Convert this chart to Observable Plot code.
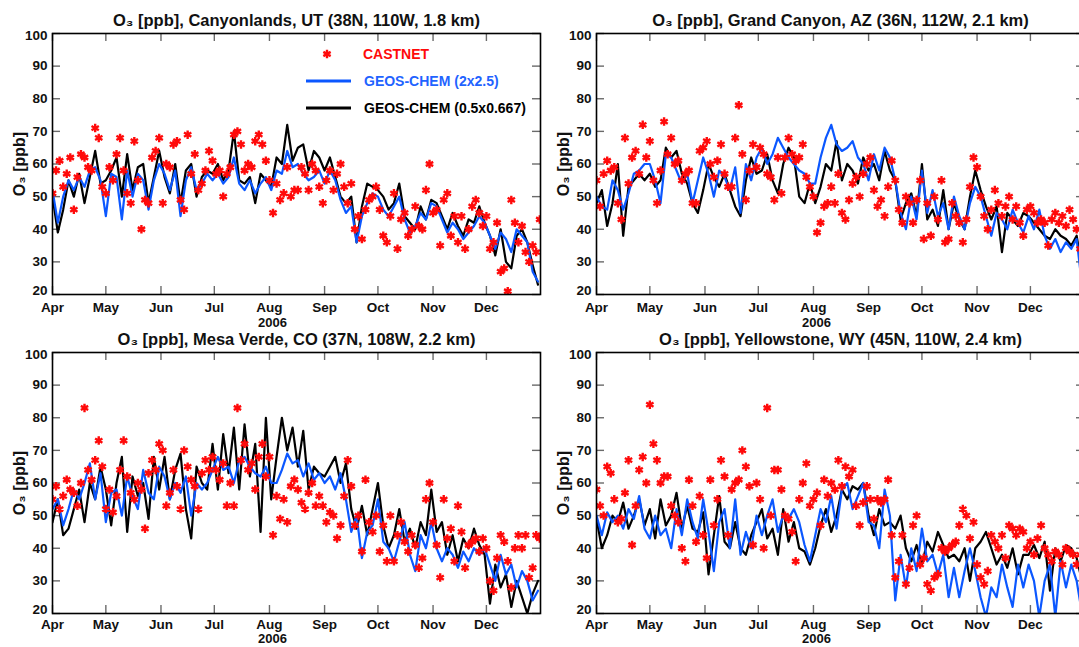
<!DOCTYPE html>
<html><head><meta charset="utf-8">
<script src="https://cdn.jsdelivr.net/npm/d3@7"></script>
<script src="https://cdn.jsdelivr.net/npm/@observablehq/plot@0.6"></script>
<style>
html,body{margin:0;padding:0;background:#fff;overflow:hidden;}
#wrap{position:relative;width:1079px;height:647px;overflow:hidden;font-family:"Liberation Sans",Arial,sans-serif;}
.panel{position:absolute;}
.leg{position:absolute;font-weight:bold;font-size:14px;white-space:nowrap;line-height:14px;}
</style></head><body><div id="wrap"></div>
<script>
// ---------- axis / labels ----------
const yTicks = [20, 30, 40, 50, 60, 70, 80, 90, 100];
const monthLabels = ["Apr", "May", "Jun", "Jul", "Aug", "Sep", "Oct", "Nov", "Dec"];
const yearLabel = "2006";
const yLabel = "O\u2083 [ppb]";
const titles = [
  "O\u2083 [ppb], Canyonlands, UT (38N, 110W, 1.8 km)",
  "O\u2083 [ppb], Grand Canyon, AZ (36N, 112W, 2.1 km)",
  "O\u2083 [ppb], Mesa Verde, CO (37N, 108W, 2.2 km)",
  "O\u2083 [ppb], Yellowstone, WY (45N, 110W, 2.4 km)"
];
const seriesNames = ["CASTNET", "GEOS-CHEM (2x2.5)", "GEOS-CHEM (0.5x0.667)"];
// CASTNET sampled every 2 days, model every 3 days, starting 1 April 2006
const CAST_STEP = 2, MODEL_STEP = 3;

// ---------- Canyonlands ----------
const canyonCastnet = [51,58,61,53,57,62,46,56,63,62, 59,58,71,68,53,51,59,55,63,68, 58,51,48,67,55,40,49,48,62,64, 68,48,60,59,66,67,49,46,69,57, 63,52,54,58,64,61,57,58,50,57, 59,69,70,66,58,60,59,67,69,66, 61,55,45,54,49,51,59,50,52,52, 59,57,52,60,58,53,48,55,58,52, 57,60,53,48,54,40,44,37,46,49, 50,53,46,38,36,44,51,34,43,45, 38,40,47,41,40,52,60,45,46,35, 49,51,38,44,36,44,34,40,47,49, 45,41,44,34,36,42,27,28,21,49, 42,36,41,33,30,35,33,43];
const canyonGC2x25 = [52,42,50,55,52,56,53,58,59,55, 44,57,56,43,58,50,57,55,46,55, 60,57,52,58,44,55,59,52,54,57, 55,57,54,56,62,54,52,55,51,54,56, 52,58,57,64,59,60,57,55,56,58, 54,58,55,49,45,47,36,44,48,51, 50,46,44,47,50,43,39,41,45,43, 48,47,43,39,42,40,37,39,41,44, 42,38,34,39,37,33,40,38,36,27,24];
const canyonGC05 = [50,39,46,55,50,57,48,56,64,54, 55,58,62,50,63,52,59,60,48,56, 64,56,51,60,48,58,60,50,56,58, 57,60,55,58,70,55,54,56,48,57,55, 53,62,60,72,61,65,66,58,64,62, 58,62,56,50,48,50,36,47,54,53, 52,50,46,48,54,44,42,40,47,43, 49,48,44,40,45,41,38,43,42,47, 42,38,32,40,30,28,38,40,36,29,23];

// ---------- Grand Canyon ----------
const gcanCastnet = [55,47,57,61,58,59,48,43,68,54, 62,64,57,72,62,67,55,48,58,73, 63,68,60,61,55,57,58,48,48,64, 65,67,60,56,61,66,57,53,53,68, 78,63,49,58,66,59,65,63,57,56, 49,62,51,62,68,63,61,62,66,56, 53,50,39,42,47,48,53,48,57,45, 43,49,54,56,50,57,60,62,52,47, 49,44,53,61,55,46,42,50,48,42, 49,55,37,48,38,50,43,55,36,37, 48,44,42,36,43,53,62,59,50,44, 40,46,52,48,44,47,50,43,47,42, 38,46,47,45,42,43,42,35,43,45, 42,44,41,46,43,40,34,33];
const gcanGC2x25 = [50,47,46,55,52,46,51,57,58,60, 60,55,48,63,62,58,54,57,48,55, 62,57,50,58,56,52,59,45,60,55, 62,65,60,63,68,65,62,60,58,57,54, 54,62,68,72,66,64,65,67,62,60, 55,63,58,65,62,55,45,40,50,43, 58,45,52,44,48,40,50,44,40,48, 53,50,44,38,45,43,40,46,42,39, 44,40,46,38,34,37,33,36,34,37,23];
const gcanGC05 = [48,52,41,48,60,38,53,55,57,55, 57,53,55,65,62,64,57,54,48,45, 52,60,56,53,57,52,47,44,55,62, 57,58,63,55,51,60,65,62,50,48,54, 48,53,60,58,67,55,60,58,54,62, 58,60,55,64,58,55,43,48,51,44, 60,43,46,41,52,40,48,43,40,50, 58,52,47,43,47,33,45,43,41,45, 44,42,40,38,37,40,38,37,35,38,28];

// ---------- Mesa Verde ----------
const mesaCastnet = [55,59,52,56,61,58,57,53,60,83, 64,61,67,73,65,52,58,51,56,64, 73,62,57,55,60,58,46,63,67,64, 72,70,53,57,64,59,52,70,65,61, 59,52,63,67,64,68,64,61,66,53, 60,53,83,67,72,64,66,58,68,72, 62,68,44,56,49,55,48,59,61,58, 54,52,57,60,53,56,53,48,51,50, 43,47,56,67,59,47,50,39,61,48, 45,50,39,47,36,50,36,44,48,42, 39,44,41,34,37,55,60,48,41,31, 55,43,46,36,53,45,34,41,42,43, 39,43,40,30,27,37,44,42,36,28, 40,44,40,44,31,34,44,43];
const mesaGC2x25 = [52,55,47,52,58,55,60,66,55,63, 48,57,58,50,62,56,52,64,57,55, 65,62,55,60,57,62,50,60,58,60, 64,68,64,65,60,67,68,65,63,62,65, 60,60,64,69,66,67,62,66,61,63, 60,62,58,63,55,45,50,37,45,47, 55,42,40,36,42,48,38,33,44,40, 48,40,36,40,38,34,39,36,40,38, 40,35,30,38,32,35,28,33,30,24,27];
const mesaGC05 = [48,55,44,46,52,58,48,60,55,65, 58,47,60,68,45,62,56,60,49,68, 58,68,55,64,69,52,43,65,60,58, 72,58,75,63,77,58,78,62,72,45,80, 55,68,80,70,77,65,76,58,65,63, 62,65,68,60,66,52,46,53,44,52, 60,47,40,44,52,42,46,40,48,44, 58,45,48,38,44,36,43,40,46,41, 38,23,35,28,32,22,30,25,20,26,30];

// ---------- Yellowstone ----------
const yellCastnet = [58,53,50,65,63,55,48,49,57,67, 41,53,64,68,60,84,72,67,60,62, 62,53,50,48,40,36,61,53,42,56, 44,37,61,47,55,67,62,44,58,60, 61,70,65,59,41,60,55,40,83,50, 64,64,58,50,49,45,36,55,60,66, 53,55,57,47,61,56,60,58,67,59, 65,62,64,53,47,54,59,55,49,55, 54,55,61,44,31,36,44,29,34,47, 50,35,37,29,27,31,32,40,39,40, 41,42,47,52,50,43,48,35,31,29, 33,44,42,40,44,37,47,46,44,46, 45,40,42,38,43,47,40,38,36,39, 38,35,40,39,38,35,38,31];
const yellGC2x25 = [50,44,51,48,50,46,52,49,56,46, 43,50,44,46,40,52,44,55,48,43, 55,45,33,48,52,40,55,38,45,40, 50,44,50,55,45,50,49,52,48,41,36, 44,52,48,56,46,58,60,52,56,60, 48,47,40,58,50,24,38,28,40,33, 46,36,38,32,38,25,34,25,33,40, 33,25,19,28,25,35,28,22,35,28, 35,30,19,30,35,19,36,28,35,30,20];
const yellGC05 = [49,40,44,50,48,54,46,50,55,47, 52,43,55,47,50,57,46,53,46,45, 51,32,44,56,42,40,48,40,38,44, 48,52,43,46,38,52,42,48,40,39,35, 40,47,52,45,50,58,55,59,58,60, 50,44,52,47,48,46,50,40,36,41, 35,42,39,45,41,37,38,36,40,30, 40,42,45,40,35,38,34,40,32,38, 38,41,37,42,27,40,36,41,40,37,30];

// ---------- drawing ----------
const RED = "#ff0a0a", BLUE = "#0b57ff", BLACK = "#000";
const dayDate = d => new Date(Date.UTC(2006, 3, 1 + d));
const xDomain = [new Date(Date.UTC(2006, 3, 1)), new Date(Date.UTC(2006, 11, 31, 10))];
const monthDates = monthLabels.map((m, i) => new Date(Date.UTC(2006, 3 + i, 1)));
const toRows = (vals, step) => vals.map((v, i) => ({date: dayDate(i * step), v}));
const yMin = yTicks[0], yMax = yTicks[yTicks.length - 1];
const yInner = yTicks.filter(t => t !== yMin && t !== yMax);

const W = 488, H = 261, ML = 52, MR = 10, MT = 33, MB = 40;

function panel(title, cast, blue, black, xPad, yearDy) {
  const tickStyle = {stroke: "#6a6a6a", strokeWidth: 1.4};
  const axY = {anchor: "left", tickSize: 0, tickPadding: 5, label: null};
  return Plot.plot({
    width: ML + W + MR, height: MT + H + MB,
    marginLeft: ML, marginRight: MR, marginTop: MT, marginBottom: MB,
    style: {fontFamily: "'Liberation Sans', Arial, sans-serif", fontSize: "13.5px", fontWeight: "bold", background: "transparent", overflow: "visible", color: "#111"},
    x: {type: "utc", domain: xDomain},
    y: {domain: [yMin, yMax]},
    marks: [
      Plot.tickY(yTicks, {y: d => d, insetRight: W - 8, ...tickStyle}),
      Plot.tickY(yTicks, {y: d => d, insetLeft: W - 8, ...tickStyle}),
      Plot.tickX(monthDates, {x: d => d, insetTop: H - 8, ...tickStyle}),
      Plot.tickX(monthDates, {x: d => d, insetBottom: H - 8, ...tickStyle}),
      Plot.line(toRows(black, MODEL_STEP), {x: "date", y: "v", stroke: BLACK, strokeWidth: 2.2, clip: true}),
      Plot.line(toRows(blue, MODEL_STEP), {x: "date", y: "v", stroke: BLUE, strokeWidth: 2.2, clip: true}),
      Plot.dot(toRows(cast, CAST_STEP), {x: "date", y: "v", symbol: "asterisk", r: 4, stroke: RED, strokeWidth: 2.4, clip: true}),
      Plot.axisY({...axY, ticks: yInner}),
      Plot.axisY({...axY, ticks: [yMin], dy: -4}),
      Plot.axisY({...axY, ticks: [yMax], dy: 2}),
      Plot.axisX({ticks: monthDates, anchor: "bottom", tickSize: 0, tickPadding: xPad, label: null,
                  tickFormat: d => monthLabels[d.getUTCMonth() - 3]}),
      Plot.text([yearLabel], {frameAnchor: "bottom", lineAnchor: "middle", dx: -24, dy: yearDy, fontSize: 13}),
      Plot.text([title], {frameAnchor: "top", lineAnchor: "middle", dy: -13, fontSize: 16.5}),
      Plot.text([yLabel], {frameAnchor: "left", textAnchor: "middle", lineAnchor: "middle", rotate: -90, dx: -33, fontSize: 16}),
      Plot.frame({stroke: "#000", strokeWidth: 1.6})
    ]
  });
}

const wrap = document.getElementById("wrap");
const specs = [
  [titles[0], canyonCastnet, canyonGC2x25, canyonGC05, 0, 0, 8, 28],
  [titles[1], gcanCastnet, gcanGC2x25, gcanGC05, 544, 0, 8, 28],
  [titles[2], mesaCastnet, mesaGC2x25, mesaGC05, 0, 319, 6, 25],
  [titles[3], yellCastnet, yellGC2x25, yellGC05, 544, 319, 6, 25]
];
for (const [t, c, b, k, left, top, xp, yd] of specs) {
  const el = panel(t, c, b, k, xp, yd);
  el.classList.add("panel");
  el.style.left = left + "px";
  el.style.top = top + "px";
  wrap.appendChild(el);
}

// legend (inside the Canyonlands panel)
function addLegendRow(y, color, textColor, label, kind) {
  const s = d3.create("svg").attr("width", 50).attr("height", 12)
    .style("position", "absolute").style("left", "303px").style("top", (y - 6) + "px");
  if (kind === "dot") {
    s.append("path").attr("transform", "translate(24,6)")
      .attr("d", d3.symbol(d3.symbolAsterisk, Math.PI * 4 * 4)())
      .attr("stroke", color).attr("stroke-width", 2.4).attr("fill", "none");
  } else {
    s.append("line").attr("x1", 3).attr("x2", 48).attr("y1", 6).attr("y2", 6)
      .attr("stroke", color).attr("stroke-width", 3);
  }
  wrap.appendChild(s.node());
  const t = document.createElement("div");
  t.className = "leg";
  t.style.left = (kind === "dot" ? 363 : 364) + "px";
  t.style.top = (y - 7) + "px";
  t.style.color = textColor;
  t.textContent = label;
  wrap.appendChild(t);
}
addLegendRow(54, RED, RED, seriesNames[0], "dot");
addLegendRow(81, BLUE, "#1f63ff", seriesNames[1], "line");
addLegendRow(108, BLACK, "#000", seriesNames[2], "line");
</script>
</body></html>
